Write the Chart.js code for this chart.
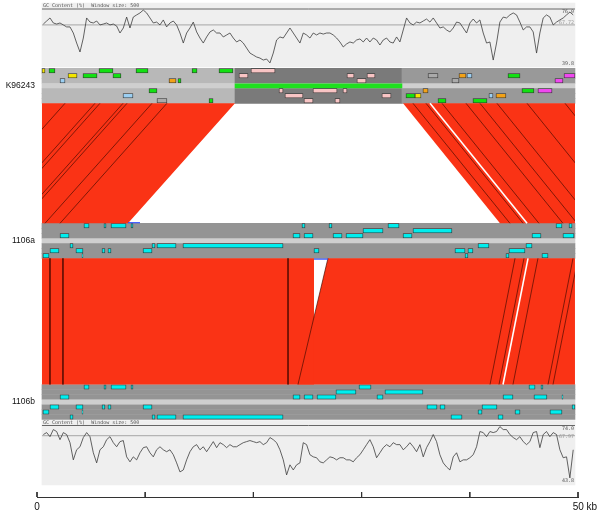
<!DOCTYPE html>
<html>
<head>
<meta charset="utf-8">
<script src="https://cdn.jsdelivr.net/npm/chart.js@4.4.1/dist/chart.umd.min.js"></script>
<style>
  html, body { margin: 0; padding: 0; background: #fff; overflow: hidden; }
</style>
</head>
<body>
<canvas id="act" width="600" height="513"></canvas>
<script>
// ---- data (positions in kb) ----
const viewKb = [0.46, 49.72];
const genomes = ['K96243', '1106a', '1106b'];
const axisTicksKb = [0, 10, 20, 30, 40, 50];

const gcCaption = 'GC Content (%)  Window size: 500';
const gcStartKb = 0.585;
const gcStepKb = 0.308;
const gcTopRef = { max: 76.0, min: 39.8, avg: 65.5 };
const gcBotRef = { max: 74.0, min: 43.8, avg: 68.3 };
const gcTopLabels = ['76.0', '67.72', '39.8'];
const gcBotLabels = ['74.0', '67.97', '43.8'];

const gcTopPct = [
  66.1, 68.1, 70.1, 66.8, 66.1, 66.8, 65.5, 64.2, 64.2, 60.2,
  53.6, 47.7, 56.9, 70.1, 67.4, 66.8, 68.1, 65.5, 66.1, 66.8,
  65.5, 66.1, 64.8, 60.2, 63.5, 70.7, 63.5, 70.7, 72.1, 73.4,
  75.3, 73.4, 70.1, 66.8, 67.4, 65.5, 68.8, 64.2, 66.8, 68.1,
  65.5, 60.2, 53.6, 60.2, 63.5, 67.4, 60.9, 56.9, 53.6, 57.6,
  60.9, 62.2, 60.2, 60.2, 57.6, 58.9, 60.2, 56.9, 54.3, 55.6,
  53.6, 50.3, 47.0, 45.7, 44.4, 43.7, 42.4, 43.1, 40.5, 47.0,
  55.6, 57.6, 56.9, 60.2, 63.5, 60.2, 56.9,
  53.6, 60.2, 58.9, 56.9, 60.2, 58.9, 60.2, 59.5, 60.2, 60.2,
  58.9, 56.9, 54.3, 51.0, 53.0, 54.3, 53.6, 55.6, 56.3, 54.3,
  56.9, 54.3, 56.9, 55.6, 52.3, 55.6, 56.9, 54.3, 53.6, 57.6,
  54.3, 62.2, 70.1, 66.8, 65.5, 67.4, 66.8, 68.1, 69.4, 67.4,
  70.1, 66.8, 63.5, 64.2, 62.2, 60.9, 63.5, 67.4, 66.8, 63.5,
  60.2, 66.8, 69.4, 66.8, 68.8, 60.2, 53.6, 54.3, 42.4, 53.6,
  67.4, 70.7, 70.1, 72.1, 73.4, 72.1, 67.4, 62.2, 64.2, 64.2,
  60.9, 47.0, 60.2, 70.1, 72.1, 70.7, 65.5, 67.4, 68.8, 70.1,
  72.1, 74.0, 72.1
];

const gcBotPct = [
  68.9, 70.0, 67.7, 71.7, 70.6, 66.0, 70.0, 68.9, 64.3, 54.6,
  60.3, 62.0, 67.2, 70.0, 67.7, 58.6, 52.9, 60.3, 62.0, 66.0,
  67.7, 64.3, 62.0, 64.9, 65.5, 56.3, 53.5, 56.3, 54.6, 58.6,
  61.5, 62.0, 58.6, 56.3, 60.3, 62.0, 60.3, 59.2, 60.3, 57.5,
  52.9, 47.8, 48.9, 54.6, 59.2, 62.0, 63.2, 60.3, 62.0, 59.2,
  62.0, 64.9, 61.5, 64.3, 63.2, 61.5, 63.2, 62.0, 62.0, 63.2,
  64.3, 64.9, 65.5, 64.9, 64.3, 64.9, 63.2, 64.3, 67.2, 66.0,
  64.3, 60.3, 54.6, 46.1, 51.8, 48.9, 51.8,
  52.9, 64.3, 63.2, 57.5, 56.3, 55.8, 53.5, 52.9, 54.6, 56.3,
  55.8, 54.6, 55.8, 55.8, 54.6, 54.6, 53.5, 55.8, 57.5, 60.3,
  63.2, 66.0, 62.0, 55.8, 58.6, 61.5, 63.2, 62.0, 64.3, 63.2,
  63.2, 60.3, 62.0, 64.3, 62.0, 59.2, 63.2, 56.3, 61.5, 64.9,
  68.9, 64.9, 57.5, 52.9, 50.6, 48.9, 56.3, 58.6, 53.5, 54.6,
  54.6, 55.8, 57.5, 62.0, 70.6, 70.0, 67.7, 70.6, 70.0, 70.6,
  73.4, 71.7, 71.7, 68.9, 67.2, 66.0, 67.7, 64.9, 63.2, 64.9,
  70.0, 70.6, 61.5, 68.9, 70.6, 67.7, 70.0, 68.9, 60.3, 55.8,
  56.3, 44.4, 60.3
];

// stop codon density per genome: [startKb, endKb, density]
const stopsK96243 = [[0.46, 18.30, 0.28], [18.30, 33.73, 0.52], [33.73, 49.72, 0.40]];
const stops1106a = [[0.46, 49.72, 0.42]];
const stops1106b = [[0.46, 49.72, 0.42]];

// DNA line: island shown in green on K96243
const islandK96243 = [18.30, 33.73];

// features per frame line (3 forward, 3 reverse): [startKb, endKb, kind]
const featK96243 = [
  [[0.46, 0.74, 'y'], [1.11, 1.66, 'g'], [5.73, 7.02, 'g'], [9.15, 10.26, 'g'], [14.33, 14.79, 'g'], [16.82, 18.11, 'g'], [19.78, 22.00, 'p']],
  [[2.87, 3.70, 'y'], [4.25, 5.55, 'g'], [7.02, 7.76, 'g'], [18.67, 19.50, 'p'], [28.65, 29.30, 'p'], [30.50, 31.24, 'p'], [36.14, 37.06, 's'], [39.00, 39.65, 'o'], [39.74, 40.20, 'b'], [43.53, 44.64, 'g'], [48.71, 49.72, 'm']],
  [[2.13, 2.59, 'b'], [12.20, 12.85, 'o'], [13.03, 13.31, 'g'], [29.57, 30.41, 'p'], [38.35, 39.00, 's'], [47.87, 48.61, 'm']],
  [[10.35, 11.09, 'g'], [22.37, 22.74, 'p'], [25.51, 27.73, 'p'], [28.28, 28.65, 'p'], [35.67, 36.14, 'o'], [44.82, 45.93, 'g'], [46.30, 47.60, 'm']],
  [[7.95, 8.87, 'b'], [22.92, 24.58, 'p'], [31.88, 32.72, 'p'], [34.10, 34.94, 'g'], [34.94, 35.49, 'y'], [41.77, 42.14, 'b'], [42.42, 43.34, 'o']],
  [[11.09, 12.01, 's'], [15.90, 16.27, 'g'], [24.68, 25.51, 'p'], [27.54, 28.00, 'p'], [37.06, 37.80, 'g'], [40.29, 41.59, 'g']]
];
const feat1106a = [
  [[4.34, 4.81], [6.19, 6.38], [6.84, 8.23], [8.69, 8.87], [24.49, 24.77], [26.99, 27.26], [32.44, 33.46], [47.97, 48.52], [49.17, 49.45]],
  [[30.13, 31.98], [34.75, 38.35]],
  [[2.13, 2.96], [23.66, 24.31], [24.68, 25.51], [27.36, 28.19], [28.56, 30.13], [33.83, 34.66], [45.75, 46.58], [48.61, 49.63]],
  [[3.05, 3.33], [10.63, 10.91], [11.09, 12.85], [13.49, 22.74], [40.76, 41.77], [45.19, 45.75]],
  [[1.20, 2.03], [3.60, 4.25], [6.01, 6.28], [6.56, 6.84], [9.80, 10.63], [25.60, 26.06], [38.63, 39.56], [39.83, 40.29], [43.62, 45.10]],
  [[0.55, 1.11], [4.16, 4.25], [39.56, 39.83], [43.34, 43.62], [46.67, 47.23]]
];
const feat1106b = [
  [[4.34, 4.81], [6.19, 6.38], [6.84, 8.23], [8.69, 8.87], [29.76, 30.87], [45.47, 46.03], [46.58, 46.76]],
  [[27.63, 29.48], [32.16, 35.67]],
  [[2.13, 2.96], [23.66, 24.31], [24.68, 25.51], [25.88, 27.63], [31.42, 31.98], [43.07, 43.99], [45.93, 47.13], [48.52, 48.61]],
  [[1.20, 2.03], [3.60, 4.25], [6.01, 6.28], [6.56, 6.84], [9.80, 10.63], [36.04, 36.97], [37.25, 37.71], [41.13, 42.51], [49.45, 49.72]],
  [[0.55, 1.11], [4.16, 4.25], [40.76, 41.13], [44.18, 44.64], [47.41, 48.52]],
  [[3.05, 3.33], [10.63, 10.91], [11.09, 12.85], [13.49, 22.74], [38.26, 39.28], [42.61, 43.07]]
];

// comparison blocks: [topStart, topEnd, bottomStart, bottomEnd]
const blocksK96243v1106a = [[0.46, 18.30, 0.46, 8.41], [33.83, 49.72, 42.79, 49.72]];
const blocks1106av1106b = [[0.46, 25.60, 0.46, 25.60], [26.89, 49.72, 24.12, 49.72]];
// match boundaries inside the blocks: [topKb, bottomKb]
const edgesK96243v1106a = [
  [2.59, -7.30], [5.36, -4.53], [5.82, -4.07], [7.95, -1.94], [8.32, -1.57], [10.63, 0.74], [12.01, 2.13],
  [34.75, 43.71], [35.95, 44.92], [37.43, 46.39], [39.65, 48.61], [40.94, 49.91], [42.51, 51.48], [45.29, 54.25], [48.80, 57.76]
];
const gapsK96243v1106a = [[36.32, 45.29]];
const edges1106av1106b = [
  [1.20, 1.20], [2.40, 2.40], [23.20, 23.20], [26.89, 24.12],
  [44.18, 41.87], [45.01, 42.70], [46.30, 43.99], [49.54, 47.23], [50.00, 47.69]
];
const gaps1106av1106b = [[45.38, 43.07]];
const invertedHits = [[8.41, 9.52], [25.60, 26.89]];

// ---- layout (rows of the hidden y scale, in px) ----
const L = {
  gc: [
    { bgTop: 3, bgBot: 67, yMax: 9, yMin: 64, caption: 5.5, labelY: [12, 22.5, 63.5] },
    { bgTop: 420.5, bgBot: 485, yMax: 425.5, yMin: 479, caption: 422.5, labelY: [428.5, 436.5, 480.5] }
  ],
  trackTop: [68.3, 223.3, 384.5],
  rowH: 5, dnaGap: 5, dnaH: 4,
  axisY: 497, tickLen: 5,
  yAxisW: 37, xAxisH: 16, padRight: 22
};
const pxPerKb = (600 - L.yAxisW - L.padRight) / 50;
const panelClip = { left: -viewKb[0] * pxPerKb, right: -(50 - viewKb[1]) * pxPerKb, top: 0, bottom: 0 };

const featureColors = { y: '#f4e600', g: '#12e012', p: '#f8c4c4', b: '#9ccff2', o: '#f2a218', s: '#aaaaaa', m: '#f048f0', c: '#00eeee' };
const redFill = '#fa3315';

function rowY(g, r) {
  const t = L.trackTop[g];
  return r < 3 ? t + L.rowH * (r + 0.5) : t + 3 * L.rowH + L.dnaGap + L.rowH * (r - 3 + 0.5);
}
function dnaY(g) { return L.trackTop[g] + 3 * L.rowH + L.dnaGap / 2; }
function trackBottom(g) { return L.trackTop[g] + 6 * L.rowH + L.dnaGap; }
function grey(d) { const v = Math.round(255 * (1 - d)); return `rgb(${v},${v},${v})`; }

function hbars(data, colors, thickness, order, border) {
  return {
    type: 'bar', indexAxis: 'y', data, backgroundColor: colors, barThickness: thickness,
    borderColor: border || 'rgba(0,0,0,0)', borderWidth: border ? 0.8 : 0, borderSkipped: false,
    stack: 'all', order
  };
}
function line(data, color, width, order, extra) {
  return Object.assign({ type: 'line', data, borderColor: color, borderWidth: width, pointRadius: 0, fill: false, tension: 0, order }, extra || {});
}

const datasets = [];

// GC panels
const gcSets = [[gcTopPct, gcTopRef, L.gc[0]], [gcBotPct, gcBotRef, L.gc[1]]];
gcSets.forEach(([vals, ref, p]) => {
  const toY = (v) => p.yMax + (ref.max - v) / (ref.max - ref.min) * (p.yMin - p.yMax);
  datasets.push(hbars([{ x: viewKb, y: (p.bgTop + p.bgBot) / 2 }], '#efefef', p.bgBot - p.bgTop, 100));
  datasets.push(line([{ x: viewKb[0], y: toY(ref.max) }, { x: viewKb[1], y: toY(ref.max) }], '#666', 1, 90));
  datasets.push(line([{ x: viewKb[0], y: toY(ref.avg) }, { x: viewKb[1], y: toY(ref.avg) }], '#b4b4b4', 1.2, 90));
  datasets.push(line(vals.map((v, i) => ({ x: gcStartKb + i * gcStepKb, y: toY(v) })), '#3c3c3c', 0.8, 80));
});

// stop codon shading, DNA line, features
[stopsK96243, stops1106a, stops1106b].forEach((segs, g) => {
  const data = [], colors = [];
  for (let r = 0; r < 6; r++) segs.forEach(s => { data.push({ x: [s[0], s[1]], y: rowY(g, r) }); colors.push(grey(s[2])); });
  datasets.push(hbars(data, colors, L.rowH, 70));
  const dna = [{ x: viewKb, y: dnaY(g) }];
  const dnaColors = ['#cfcfcf'];
  if (g === 0) { dna.push({ x: islandK96243, y: dnaY(g) }); dnaColors.push('#1ee01e'); }
  datasets.push(hbars(dna, dnaColors, L.dnaH, 60));
});
[[featK96243, null], [feat1106a, 'c'], [feat1106b, 'c']].forEach(([rows, kind], g) => {
  const data = [], colors = [];
  rows.forEach((row, r) => row.forEach(f => {
    data.push({ x: [f[0], f[1]], y: rowY(g, r) });
    colors.push(featureColors[f[2] || kind]);
  }));
  datasets.push(hbars(data, colors, 4.4, 50, '#333'));
});

// comparisons
function blockPolygon(b, yt, yb) {
  const [ts, te, bs, be] = b;
  const A = { x: ts, y: yt }, B = { x: te, y: yt }, C = { x: be, y: yb }, D = { x: bs, y: yb };
  return bs < ts ? [D, A, B, C] : [A, D, C, B];
}
function segments(pairs, yt, yb) {
  const out = [];
  pairs.forEach(p => out.push({ x: p[0], y: yt }, { x: p[1], y: yb }, { x: null, y: null }));
  return out;
}
const comps = [
  [blocksK96243v1106a, edgesK96243v1106a, gapsK96243v1106a, trackBottom(0), L.trackTop[1]],
  [blocks1106av1106b, edges1106av1106b, gaps1106av1106b, trackBottom(1), L.trackTop[2]]
];
comps.forEach(([blocks, edges, gaps, yt, yb], ci) => {
  blocks.forEach(b => datasets.push(line(blockPolygon(b, yt, yb), 'rgba(0,0,0,0)', 0, 40,
    { fill: 'shape', backgroundColor: redFill })));
  datasets.push(line(segments(edges, yt, yb), 'rgba(70,10,0,0.85)', 0.8, 30, { clip: panelClip }));
  datasets.push(line(segments(gaps, yt, yb), '#ffffff', 1.6, 25, { clip: panelClip }));
  const hy = ci === 0 ? yb - 0.6 : yt + 0.8;
  const h = invertedHits[ci];
  datasets.push(line([{ x: h[0], y: hy }, { x: h[1], y: hy }], '#3050ff', 1.2, 20));
});

// upward tick marks on the kb axis
datasets.push(line(segments(axisTicksKb.map(v => [v, v]), L.axisY - L.tickLen, L.axisY), '#333', 1, 10, { clip: false }));

const captionPlugin = {
  id: 'gcCaptions',
  afterDatasetsDraw(chart) {
    const { ctx, scales: { x, y } } = chart;
    ctx.save();
    ctx.font = '5px "DejaVu Sans Mono", monospace';
    ctx.fillStyle = '#555';
    ctx.textBaseline = 'middle';
    [gcTopLabels, gcBotLabels].forEach((labels, i) => {
      const p = L.gc[i];
      ctx.textAlign = 'left';
      ctx.fillText(gcCaption, x.getPixelForValue(viewKb[0]) + 1, y.getPixelForValue(p.caption));
      ctx.textAlign = 'right';
      labels.forEach((t, k) => {
        ctx.fillStyle = k === 1 ? '#999' : '#555';
        ctx.fillText(t, x.getPixelForValue(viewKb[1]) - 1, y.getPixelForValue(p.labelY[k]));
      });
      ctx.fillStyle = '#555';
    });
    ctx.restore();
  }
};

new Chart(document.getElementById('act'), {
  type: 'line',
  data: { datasets },
  options: {
    responsive: false,
    animation: false,
    events: [],
    devicePixelRatio: 1,
    layout: { padding: { left: 0, right: L.padRight, top: 0, bottom: 0 } },
    plugins: { legend: { display: false }, tooltip: { enabled: false } },
    scales: {
      x: {
        type: 'linear', position: 'bottom', min: 0, max: 50, offset: false, stacked: false,
        afterFit(s) { s.height = L.xAxisH; s.paddingLeft = 0; s.paddingRight = 0; },
        grid: { display: true, drawOnChartArea: false, drawTicks: false, color: 'rgba(0,0,0,0)' },
        border: { display: true, color: '#333', width: 1 },
        ticks: {
          stepSize: 10, autoSkip: false, maxRotation: 0, padding: 4, color: '#111',
          font: { family: '"Liberation Sans", Arial, sans-serif', size: 10 },
          callback: (v) => (v === 0 ? '0' : v === 50 ? '     50 kb' : '')
        }
      },
      y: {
        type: 'linear', position: 'left', min: 0, max: L.axisY, reverse: true, offset: false,
        afterFit(s) { s.width = L.yAxisW; s.paddingTop = 0; s.paddingBottom = 0; },
        afterBuildTicks(s) { s.ticks = genomes.map((_, g) => ({ value: dnaY(g) })); },
        grid: { display: true, drawOnChartArea: false, drawTicks: false, color: 'rgba(0,0,0,0)' },
        border: { display: false },
        ticks: {
          autoSkip: false, padding: 2, color: '#111',
          font: { family: '"Liberation Sans", Arial, sans-serif', size: 8.5 },
          callback: (v, i) => genomes[i]
        }
      }
    }
  },
  plugins: [captionPlugin]
});
</script>
</body>
</html>
